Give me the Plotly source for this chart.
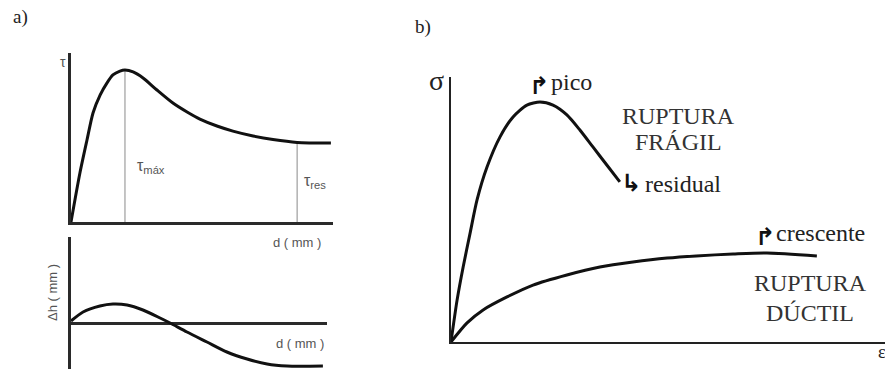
import numpy as np
import plotly.graph_objects as go

# ---- a) shear stress vs. horizontal displacement ----
d_tau = [0, 0.34, 0.61, 0.84, 1.11, 1.37, 1.60, 1.87, 2.06, 2.37, 2.75, 3.28,
         3.89, 4.43, 4.92, 5.57, 6.18, 6.95, 7.71, 8.63, 9.92]
tau = [0, 2.90, 4.85, 6.45, 7.51, 8.22, 8.70, 8.93, 8.99, 8.88, 8.52, 7.81,
       7.04, 6.51, 6.09, 5.68, 5.38, 5.09, 4.88, 4.71, 4.67]
d_res = 8.63

# ---- a) vertical displacement vs. horizontal displacement ----
d_dh = [0, 0.47, 1.13, 1.64, 2.19, 2.81, 3.48, 3.87, 4.53, 5.31, 6.09, 6.88,
        7.66, 8.44, 9.84]
dh = [0.2, 1.1, 1.7, 1.9, 1.8, 1.3, 0.5, 0, -0.9, -1.9, -2.9, -3.6, -4.1,
      -4.3, -4.3]

# ---- b) stress-strain: brittle and ductile failure ----
eps_fragil = [0, 0.14, 0.28, 0.44, 0.60, 0.83, 1.13, 1.43, 1.75, 2.05, 2.35,
              2.67, 2.97, 3.27, 3.59, 3.89]
sig_fragil = [0, 1.58, 2.83, 4.11, 5.36, 6.60, 7.74, 8.49, 8.94, 9.06, 8.94,
              8.57, 8.00, 7.36, 6.68, 6.04]
eps_ductil = [0, 0.37, 0.74, 1.29, 1.89, 2.67, 3.43, 4.19, 4.98, 5.65, 6.50,
              7.28, 8.43]
sig_ductil = [0, 0.72, 1.21, 1.70, 2.15, 2.53, 2.83, 3.02, 3.17, 3.25, 3.32,
              3.36, 3.25]

W, H = 885, 369
CURVE = dict(color="#111111", width=3, shape="spline", smoothing=0.7)
SANS = "Liberation Sans, Arial, sans-serif"
SERIF = "Liberation Serif, Times New Roman, DejaVu Serif, serif"
ARROW_FONT = "DejaVu Sans, sans-serif"

fig = go.Figure()

# τ curve and its reference verticals
i_pk = int(np.argmax(tau))
fig.add_trace(go.Scatter(x=[d_tau[i_pk]] * 2, y=[0, tau[i_pk]], mode="lines",
                         line=dict(color="#8a8a8a", width=1),
                         xaxis="x", yaxis="y"))
fig.add_trace(go.Scatter(x=[d_res] * 2, y=[0, float(np.interp(d_res, d_tau, tau))],
                         mode="lines", line=dict(color="#8a8a8a", width=1),
                         xaxis="x", yaxis="y"))
fig.add_trace(go.Scatter(x=d_tau, y=tau, mode="lines", line=CURVE,
                         xaxis="x", yaxis="y"))

# Δh curve
fig.add_trace(go.Scatter(x=d_dh, y=dh, mode="lines", line=CURVE,
                         xaxis="x2", yaxis="y2"))

# σ-ε curves
fig.add_trace(go.Scatter(x=eps_fragil, y=sig_fragil, mode="lines", line=CURVE,
                         xaxis="x3", yaxis="y3"))
fig.add_trace(go.Scatter(x=eps_ductil, y=sig_ductil, mode="lines", line=CURVE,
                         xaxis="x3", yaxis="y3"))


def px_dom(a, b, total):
    return [a / total, b / total]


def py_dom(top, bottom):
    return [1 - bottom / H, 1 - top / H]


blank = dict(showgrid=False, showticklabels=False, ticks="", zeroline=False)
axline = dict(showline=True, linecolor="#2a2a2a", linewidth=2.5)

fig.update_layout(
    width=W, height=H,
    margin=dict(l=0, r=0, t=0, b=0),
    paper_bgcolor="white", plot_bgcolor="white",
    showlegend=False,
    xaxis=dict(domain=px_dom(71, 333, W), range=[0, 10], anchor="y",
               fixedrange=True, **blank, **axline),
    yaxis=dict(domain=py_dom(53, 222), range=[0, 10], anchor="x",
               fixedrange=True, **blank, **axline),
    xaxis2=dict(domain=px_dom(71, 327, W), range=[0, 10], anchor="y2",
                fixedrange=True, **blank),
    yaxis2=dict(domain=py_dom(237, 369), range=[-4.6, 8.6], anchor="x2",
                fixedrange=True, showgrid=False, showticklabels=False, ticks="",
                zeroline=True, zerolinecolor="#2a2a2a", zerolinewidth=2.5,
                **axline),
    xaxis3=dict(domain=px_dom(451, 885, W), range=[0, 10], anchor="y3",
                fixedrange=True, **blank, showline=True, linecolor="#222222",
                linewidth=2),
    yaxis3=dict(domain=py_dom(77, 342), range=[0, 10], anchor="x3",
                fixedrange=True, **blank, showline=True, linecolor="#222222",
                linewidth=2),
)


def label(text, x, y, size, family, color="#333333", xanchor="center",
          angle=0, weight="normal"):
    fig.add_annotation(text=text, x=x / W, y=1 - y / H, xref="paper",
                       yref="paper", showarrow=False, xanchor=xanchor,
                       yanchor="middle", textangle=angle,
                       font=dict(size=size, family=family, color=color,
                                 weight=weight))


# panel a labels
label("a)", 20, 17, 19, SERIF, "#222222")
label("τ", 63, 62, 14, SANS, "#555555")
label("τ<sub>máx</sub>", 135, 166, 16, SANS, "#555555", xanchor="left")
label("τ<sub>res</sub>", 302, 181, 16, SANS, "#555555", xanchor="left")
label("d ( mm )", 297, 242, 13, SANS, "#555555")
label("d ( mm )", 300, 343, 13, SANS, "#555555")
label("Δh ( mm )", 52, 293, 13, SANS, "#555555", angle=-90)

# panel b labels
label("b)", 423, 27, 19, SERIF, "#222222")
label("σ", 436, 81, 28, SERIF, "#222222")
label("↱", 539, 86, 24, ARROW_FONT, "#111111", weight="bold")
label("pico", 549, 82, 24, SERIF, "#222222", xanchor="left")
label("RUPTURA", 678, 116, 24, SERIF)
label("FRÁGIL", 678, 142, 24, SERIF)
label("↳", 631, 183, 24, ARROW_FONT, "#111111", weight="bold")
label("residual", 643, 184, 24, SERIF, "#222222", xanchor="left")
label("↱", 765, 237, 24, ARROW_FONT, "#111111", weight="bold")
label("crescente", 774, 233, 24, SERIF, "#222222", xanchor="left")
label("RUPTURA", 810, 283, 24, SERIF)
label("DÚCTIL", 810, 313, 24, SERIF)
label("ε", 882, 352, 18, SERIF, "#222222")

fig.write_html("out.html")
